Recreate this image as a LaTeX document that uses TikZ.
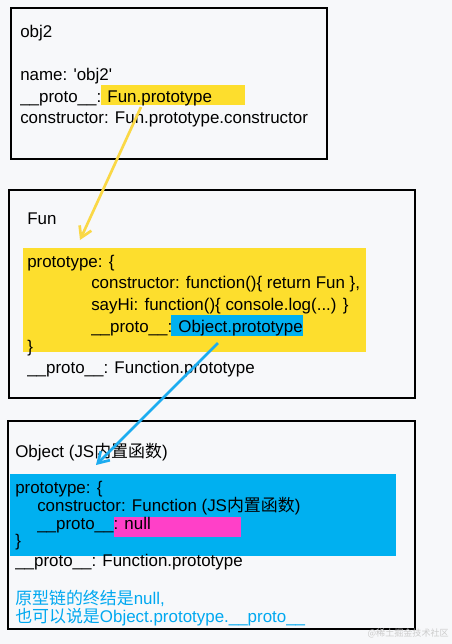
\documentclass[tikz,border=0pt]{standalone}
\usepackage{fontspec}
\setmainfont{Liberation Sans}
\newfontfamily\cjk{Noto Sans CJK SC}
\usetikzlibrary{arrows.meta}
\definecolor{bgc}{RGB}{247,248,250}
\definecolor{hlyellow}{RGB}{253,222,45}
\definecolor{hlblue}{RGB}{0,176,240}
\definecolor{hlpink}{RGB}{255,64,200}
\definecolor{arryellow}{RGB}{250,216,70}
\definecolor{arrblue}{RGB}{28,172,240}
\definecolor{txtblue}{RGB}{0,168,240}

\begin{document}
\begin{tikzpicture}[x=0.75pt, y=-0.75pt,
  >={Straight Barb[length=2.8mm, width=3.4mm]},
  box/.style={draw=black, line width=1.6pt},
  line/.style={anchor=base west, inner sep=0pt, font=\fontsize{12.7}{15}\selectfont},
  link/.style={->, line width=2pt}
]

\fill[bgc] (0,0) rectangle (452,644);

% obj2
\draw[box] (11,8) rectangle (327,159);
\fill[hlyellow] (101,85) rectangle (245,105);
\node[line] (o-title) at (20,37)  {obj2};
\node[line] (o-name)  at (20,80)  {name: \textquotesingle obj2\textquotesingle};
\node[line] (o-proto) at (20,102) {\_\_proto\_\_: Fun.prototype};
\node[line] (o-ctor)  at (20,123) {constructor: Fun.prototype.constructor};

% Fun
\draw[box] (9,190) rectangle (415,398);
\fill[hlyellow] (23,248) rectangle (366,352);
\fill[hlblue] (171,315) rectangle (303,336);
\node[line] (f-title) at (27,224) {Fun};
\node[line] (f-open)  at (27,267) {prototype: \{};
\node[line] (f-ctor)  at (91,288) {constructor: function()\{ return Fun \},};
\node[line] (f-hi)    at (91,310) {sayHi: function()\{ console.log(...) \}};
\node[line] (f-pp)    at (91,332) {\_\_proto\_\_: Object.prototype};
\node[line] (f-close) at (27,352) {\}};
\node[line] (f-proto) at (27,373) {\_\_proto\_\_: Function.prototype};

% Object
\draw[box] (8,421) rectangle (415,629);
\fill[hlblue] (10,474) rectangle (396,556);
\fill[hlpink] (114,517) rectangle (241,537);
\node[line] (b-title) at (15,457) {Object (JS{\cjk 内置函数})};
\node[line] (b-open)  at (15,493) {prototype: \{};
\node[line] (b-ctor)  at (37,511) {constructor: Function (JS{\cjk 内置函数})};
\node[line] (b-pp)    at (37,529) {\_\_proto\_\_: null};
\node[line] (b-close) at (15,546) {\}};
\node[line] (b-proto) at (15,566) {\_\_proto\_\_: Function.prototype};
\node[line, text=txtblue] (b-end1) at (15,604) {{\cjk 原型链的终结是}null,};
\node[line, text=txtblue] (b-end2) at (15,622) {{\cjk 也可以说是}Object.prototype.\_\_proto\_\_};

\node[anchor=east, inner sep=0pt, text=gray!40, font=\cjk\fontsize{6.8}{8}\selectfont] (mark) at (449,633) {@稀土掘金技术社区};

\coordinate (funref) at (141,107);
\coordinate (funtip) at (80,240);
\coordinate (objref) at (218,343);
\coordinate (objtip) at (96,465);
\draw[link, arryellow] (funref) -- (funtip);
\draw[link, arrblue] (objref) -- (objtip);

\end{tikzpicture}
\end{document}
